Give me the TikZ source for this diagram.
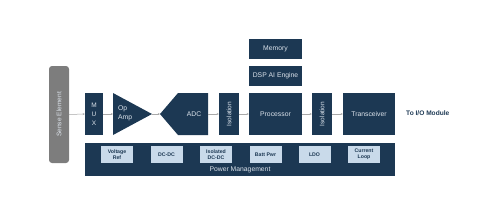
\documentclass[tikz,border=0pt]{standalone}
\usepackage{fontspec}
\setmainfont{Liberation Sans}
\usepackage{tikz}
\usetikzlibrary{arrows.meta,positioning}
\definecolor{blocknavy}{HTML}{1C3853}
\definecolor{subfill}{HTML}{C9DAEA}
\definecolor{sensegray}{HTML}{7D7D7D}
\definecolor{wiregray}{HTML}{A8A8A8}
\definecolor{labellight}{HTML}{DDE4EC}
\tikzset{
  blockbox/.style={draw=none,fill=blocknavy,text=labellight,inner sep=0pt,align=center,font=\fontsize{6.8}{8}\selectfont},
  subbox/.style={fill=subfill,draw=none,text=blocknavy,inner sep=0pt,align=center,minimum width=32pt,minimum height=17pt,font=\bfseries\fontsize{5.2}{6}\selectfont},
  sensebox/.style={fill=sensegray,text=labellight,rounded corners=3pt,inner sep=0pt,rotate=90,font=\fontsize{6.6}{8}\selectfont},
  flowarrow/.style={-{Stealth[length=2.2pt,width=2pt]},wiregray,line width=0.5pt}
}
\begin{document}
\begin{tikzpicture}[x=1pt,y=-1pt]
\useasboundingbox (0,0) rectangle (487,202);
% signal chain
\node[sensebox,minimum width=97pt,minimum height=20pt] (sense) at (59,114.5) {Sense Element};
\node[blockbox,minimum width=18pt,minimum height=42pt,font=\fontsize{6.5}{9}\selectfont] (mux) at (94,114) {M\\U\\X};
\fill[blocknavy] (113,93) -- (152,114) -- (113,135) -- cycle;
\coordinate (opin) at (113,114);
\coordinate (opout) at (152,114);
\node[text=labellight,align=left,inner sep=0pt,font=\fontsize{6.8}{9.5}\selectfont,anchor=west] (oplabel) at (118,113.5) {Op\\Amp};
\fill[blocknavy] (160,114) -- (178,93) -- (208,93) -- (208,135) -- (178,135) -- cycle;
\coordinate (adcin) at (160,114);
\coordinate (adcout) at (208,114);
\node[text=labellight,inner sep=0pt,font=\fontsize{6.8}{8}\selectfont] (adclabel) at (194,114) {ADC};
\node[blockbox,rotate=90,minimum width=42pt,minimum height=20pt,font=\fontsize{6.5}{7}\selectfont] (iso1) at (229,114) {Isolation};
\node[blockbox,minimum width=53pt,minimum height=42pt] (proc) at (275.5,114) {Processor};
\node[blockbox,rotate=90,minimum width=42pt,minimum height=20pt,font=\fontsize{6.5}{7}\selectfont] (iso2) at (322,114) {Isolation};
\node[blockbox,minimum width=52pt,minimum height=42pt] (trans) at (369,114) {Transceiver};
\node[text=blocknavy,inner sep=0pt,anchor=west,font=\bfseries\fontsize{6.6}{8}\selectfont] (iomod) at (406,113) {To I/O Module};
% processor stack
\node[blockbox,minimum width=53pt,minimum height=20pt] (mem) at (275.5,49) {Memory};
\node[blockbox,minimum width=53pt,minimum height=20pt] (dsp) at (275.5,76) {DSP AI Engine};
% power rail
\node[blockbox,minimum width=310pt,minimum height=33pt] (power) at (240,159.5) {};
\node[text=labellight,inner sep=0pt,font=\fontsize{6.8}{8}\selectfont] (powerlabel) at (240,170) {Power Management};
\node[subbox] (vref) at (117,154.5) {Voltage\\Ref};
\node[subbox] (dcdc) at (166.5,154.5) {DC-DC};
\node[subbox] (isodc) at (216,154.5) {Isolated\\DC-DC};
\node[subbox] (batt) at (265.5,154.5) {Batt Pwr};
\node[subbox] (ldo) at (314.5,154.5) {LDO};
\node[subbox] (cloop) at (364,154.5) {Current\\Loop};
% connectors
\draw[flowarrow] (sense.south) -- (mux.west);
\draw[flowarrow] (mux.east) -- (opin);
\draw[flowarrow] (opout) -- (adcin);
\draw[flowarrow] (adcout) -- (iso1.north);
\draw[flowarrow] (iso1.south) -- (proc.west);
\draw[flowarrow] (proc.east) -- (iso2.north);
\draw[flowarrow] (iso2.south) -- (trans.west);
\end{tikzpicture}
\end{document}
